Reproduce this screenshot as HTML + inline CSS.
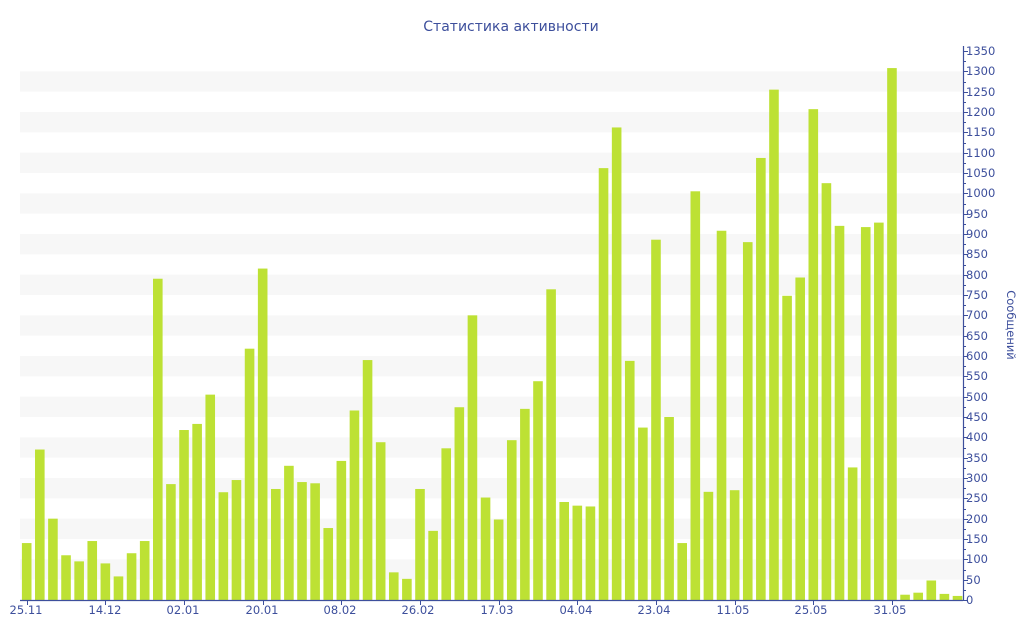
<!DOCTYPE html>
<html><head><meta charset="utf-8"><style>
body{margin:0;background:#fff;}
svg{display:block;font-family:"DejaVu Sans","Liberation Sans",sans-serif;}
text{fill:#3d4f9c;}
</style></head><body>
<svg id="c" width="1024" height="640" viewBox="0 0 1024 640">
<g id="grid"></g>
<g id="bars"></g>
<line x1="20" y1="600.5" x2="963" y2="600.5" stroke="#3d4f9c" stroke-width="1.2"/>
<line x1="963.5" y1="46" x2="963.5" y2="600" stroke="#3d4f9c" stroke-width="1.2"/>
<g id="ticks"></g>
<text x="511" y="31" font-size="14" text-anchor="middle">Статистика активности</text>
<text transform="translate(1007,325) rotate(90)" font-size="11.5" text-anchor="middle">Сообщений</text>
<g font-size="11.5" text-anchor="middle">
<text x="26" y="614">25.11</text><text x="105" y="614">14.12</text><text x="183" y="614">02.01</text><text x="262" y="614">20.01</text><text x="340" y="614">08.02</text><text x="418" y="614">26.02</text><text x="497" y="614">17.03</text><text x="576" y="614">04.04</text><text x="654" y="614">23.04</text><text x="733" y="614">11.05</text><text x="811" y="614">25.05</text><text x="890" y="614">31.05</text>
</g>
<g font-size="11.5" text-anchor="start">
<text x="966" y="604">0</text><text x="966" y="584">50</text><text x="966" y="563">100</text><text x="966" y="543">150</text><text x="966" y="523">200</text><text x="966" y="502">250</text><text x="966" y="482">300</text><text x="966" y="462">350</text><text x="966" y="441">400</text><text x="966" y="421">450</text><text x="966" y="401">500</text><text x="966" y="380">550</text><text x="966" y="360">600</text><text x="966" y="340">650</text><text x="966" y="319">700</text><text x="966" y="299">750</text><text x="966" y="279">800</text><text x="966" y="258">850</text><text x="966" y="238">900</text><text x="966" y="218">950</text><text x="966" y="197">1000</text><text x="966" y="177">1050</text><text x="966" y="157">1100</text><text x="966" y="136">1150</text><text x="966" y="116">1200</text><text x="966" y="96">1250</text><text x="966" y="75">1300</text><text x="966" y="55">1350</text>
</g>
</svg>
<script>
var NS="http://www.w3.org/2000/svg";
function el(p,t,a){var e=document.createElementNS(NS,t);for(var k in a)e.setAttribute(k,a[k]);document.getElementById(p).appendChild(e);}
var k=(600-51)/1350;function y(v){return 600-v*k;}
for(var v=50;v<1350;v+=100){el("grid","rect",{x:20,y:y(v+50),width:943,height:50*k,fill:"#f7f7f7"});}
var d=[140,370,200,110,95,145,90,58,115,145,790,285,418,433,505,265,295,618,815,273,330,290,287,177,342,466,590,388,68,52,273,170,373,474,700,252,198,393,470,538,764,241,232,230,1062,1162,588,424,886,450,140,1005,266,908,270,880,1087,1255,748,793,1207,1025,920,326,917,928,1308,13,18,48,15,10];
for(var i=0;i<d.length;i++){var cx=26.7+i*13.11;el("bars","rect",{x:cx-4.8,y:y(d[i]),width:9.6,height:d[i]*k,fill:"#bde134"});}
for(var v=0;v<=1350;v+=25){var yy=Math.round(y(v))+0.5;el("ticks","line",{x1:963,x2:v%50?966:968,y1:yy,y2:yy,stroke:"#3d4f9c"});}
for(var j=0;j<12;j++){var cx=Math.round(26.7+j*6*13.11)+0.5;el("ticks","line",{x1:cx,x2:cx,y1:600,y2:605,stroke:"#3d4f9c"});}
</script>
</body></html>
